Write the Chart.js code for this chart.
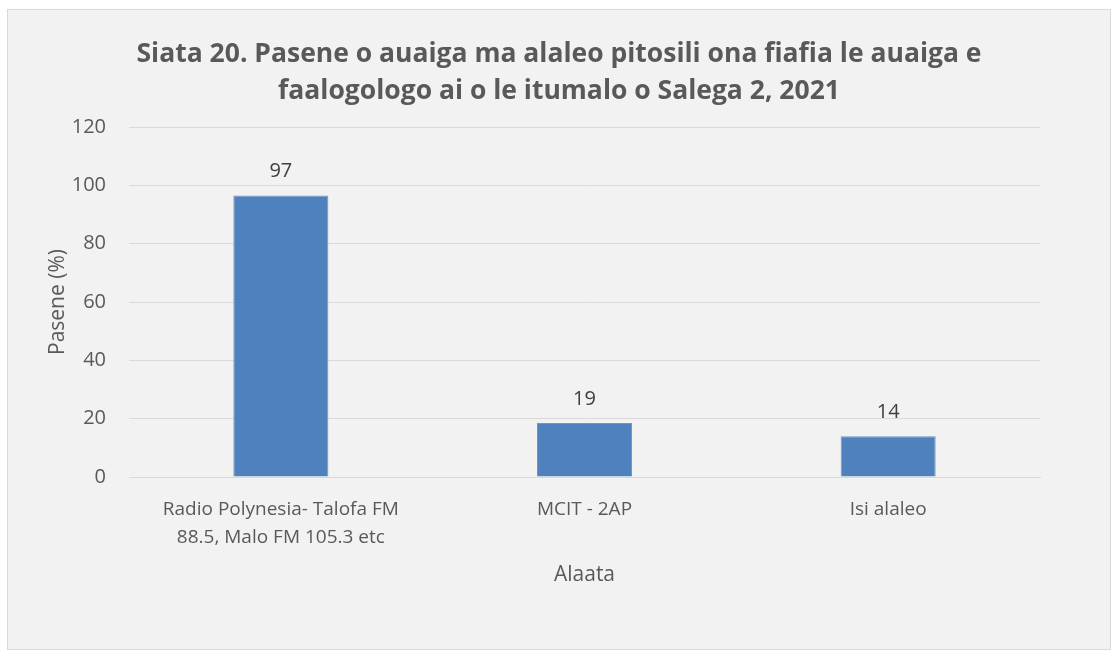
<!DOCTYPE html>
<html>
<head>
<meta charset="utf-8">
<script src="https://cdn.jsdelivr.net/npm/chart.js@4"></script>
<style>
  html, body { margin: 0; padding: 0; background: #ffffff; }
  #wrap { position: absolute; left: 0; top: 0; width: 1112px; height: 653px; }
</style>
</head>
<body>
<div id="wrap"><canvas id="radioChart" width="1112" height="653"></canvas></div>
<script>
//----- DATA -----//
const categories = [
    ['Radio Polynesia- Talofa FM', '88.5, Malo FM 105.3 etc'],
    'MCIT - 2AP',
    'Isi alaleo'
];
const percentValues = [96.5, 18.5, 14];
const titleLines = [
    'Siata 20. Pasene o auaiga ma alaleo pitosili ona fiafia le auaiga e',
    'faalogologo ai o le itumalo o Salega 2, 2021'
];
const yTicks = { min: 0, max: 120, step: 20 };

const FONT = '"Open Sans", Lato, sans-serif';
const TEXT = '#595959';

//----- PLUGINS -----//
// grey panel with thin border behind the chart
const panel = {
    id: 'panel',
    beforeDraw(chart) {
        const ctx = chart.ctx;
        ctx.save();
        ctx.fillStyle = '#f2f2f2';
        ctx.fillRect(7, 9, 1104, 641);
        ctx.strokeStyle = '#d9d9d9';
        ctx.lineWidth = 1;
        ctx.strokeRect(7.5, 9.5, 1103, 640);
        ctx.restore();
    }
};

// value labels above the bars
const valueLabels = {
    id: 'valueLabels',
    afterDatasetsDraw(chart) {
        const ctx = chart.ctx;
        const meta = chart.getDatasetMeta(0);
        ctx.save();
        ctx.font = '20px ' + FONT;
        ctx.fillStyle = '#404040';
        ctx.textAlign = 'center';
        ctx.textBaseline = 'middle';
        meta.data.forEach((bar, i) => {
            const v = chart.data.datasets[0].data[i];
            ctx.fillText(Math.round(v), bar.x, bar.y - 24);
        });
        ctx.restore();
    }
};

//----- CONFIG -----//
const config = {
    type: 'bar',
    data: {
        labels: categories,
        datasets: [{
            label: 'Pasene',
            data: percentValues,
            backgroundColor: '#4f81bd',
            borderColor: '#6f97c9',
            borderWidth: 1,
            barPercentage: 0.313,
            categoryPercentage: 1
        }]
    },
    options: {
        responsive: false,
        animation: false,
        layout: { padding: { top: 20, left: 33, right: 27, bottom: 56 } },
        plugins: {
            legend: { display: false },
            tooltip: { enabled: false },
            title: {
                display: true,
                text: titleLines,
                color: TEXT,
                font: { family: FONT, size: 26.5, weight: 'bold', lineHeight: 36.5 / 26.5 },
                padding: { top: 16.5, bottom: 17.5 }
            }
        },
        scales: {
            x: {
                grid: { display: false },
                border: { color: '#d9d9d9', width: 1 },
                ticks: {
                    color: TEXT,
                    font: { family: FONT, size: 19, lineHeight: 28 / 19 },
                    padding: 11,
                    maxRotation: 0,
                    autoSkip: false
                },
                title: {
                    display: true,
                    text: 'Alaata',
                    color: TEXT,
                    font: { family: FONT, size: 21, lineHeight: 1.2 },
                    padding: { top: 0, bottom: 9 }
                },
                afterFit(scale) { scale.height = 120; }
            },
            y: {
                min: yTicks.min,
                max: yTicks.max,
                grid: { color: '#d9d9d9', lineWidth: 1, drawTicks: false },
                border: { display: false },
                ticks: {
                    stepSize: yTicks.step,
                    color: TEXT,
                    font: { family: FONT, size: 20 },
                    padding: 23
                },
                title: {
                    display: true,
                    text: 'Pasene (%)',
                    color: TEXT,
                    font: { family: FONT, size: 21, lineHeight: 1.2 },
                    padding: { top: 12.4, bottom: 0 }
                },
                afterFit(scale) { scale.width = 96; }
            },
            // empty right-hand axis keeps the plot narrower than the centred title
            spacer: {
                type: 'linear',
                position: 'right',
                display: true,
                grid: { display: false },
                border: { display: false },
                ticks: { display: false },
                afterFit(scale) { scale.width = 45; }
            }
        }
    },
    plugins: [panel, valueLabels]
};

//----- RENDER -----//
const radioChart = new Chart(document.getElementById('radioChart'), config);
</script>
</body>
</html>
